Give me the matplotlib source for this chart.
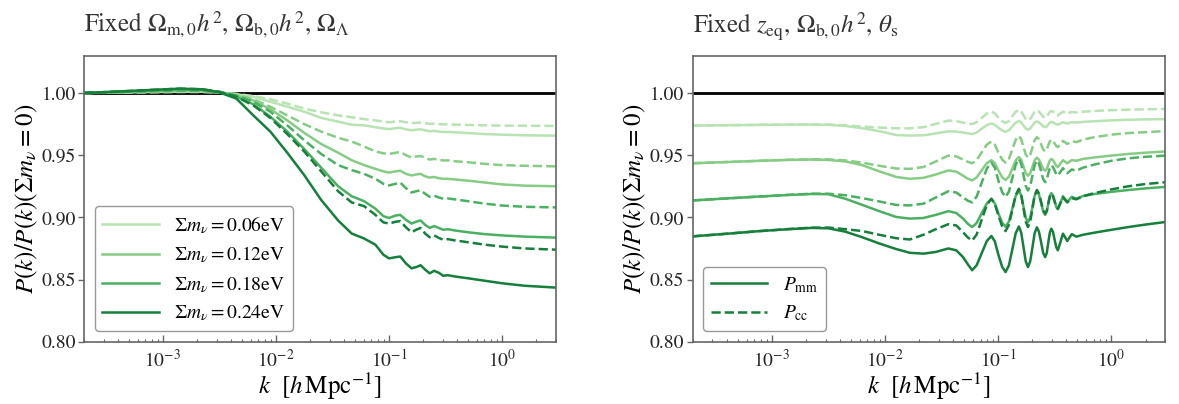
import matplotlib.pyplot as plt
import numpy as np
from matplotlib.ticker import FormatStrFormatter

# -----------------------------
# Fonts
# -----------------------------
plt.rcParams["font.family"] = "STIXGeneral"
plt.rcParams["mathtext.fontset"] = "stix"

# -----------------------------
# Data (log10 k grids, ratio curves)
# -----------------------------
LK_L = [-3.70, -3.40, -3.10, -2.85, -2.65, -2.50, -2.35, -2.20, -2.05, -1.90,
        -1.75, -1.60, -1.45, -1.33, -1.22, -1.12, -1.05, -1.00, -0.94, -0.90,
        -0.85, -0.80, -0.76, -0.72, -0.68, -0.64, -0.60, -0.56, -0.52, -0.48,
        -0.42, -0.30, -0.15, 0.00, 0.20, 0.48]

# left panel: solid = P_mm, dashed = P_cc
S06_L = [1.000, 1.0004, 1.0008, 1.001, 1.001, 1.0004, 0.999, 0.997, 0.993, 0.989,
         0.985, 0.980, 0.977, 0.9745, 0.974, 0.9725, 0.9715, 0.971, 0.9717, 0.972,
         0.9708, 0.970, 0.9705, 0.9708, 0.970, 0.9692, 0.9696, 0.969, 0.9687, 0.9687,
         0.9684, 0.9678, 0.967, 0.9665, 0.966, 0.9657]
D06_L = [1.000, 1.0003, 1.0006, 1.0008, 1.0008, 1.0004, 0.9993, 0.9975, 0.995, 0.9915,
         0.9875, 0.9845, 0.982, 0.9805, 0.979, 0.978, 0.977, 0.9765, 0.977, 0.9773,
         0.9765, 0.9757, 0.976, 0.9762, 0.9757, 0.9752, 0.9754, 0.975, 0.9748, 0.9748,
         0.9746, 0.9743, 0.974, 0.9738, 0.9737, 0.9735]
S12_L = [1.000, 1.0007, 1.0013, 1.0018, 1.0017, 1.0005, 0.998, 0.994, 0.987, 0.978,
         0.968, 0.959, 0.952, 0.946, 0.942, 0.939, 0.937, 0.936, 0.937, 0.9375,
         0.935, 0.9337, 0.9345, 0.935, 0.933, 0.932, 0.9325, 0.9315, 0.931, 0.931,
         0.9305, 0.9295, 0.928, 0.9265, 0.9255, 0.925]
D12_L = [1.000, 1.0006, 1.0011, 1.0015, 1.0015, 1.0005, 0.9985, 0.995, 0.989, 0.982,
         0.975, 0.969, 0.964, 0.961, 0.957, 0.953, 0.9515, 0.951, 0.952, 0.9525,
         0.950, 0.948, 0.949, 0.9493, 0.948, 0.9465, 0.947, 0.9462, 0.9458, 0.9458,
         0.9452, 0.9443, 0.943, 0.942, 0.9415, 0.941]
S18_L = [1.000, 1.001, 1.002, 1.003, 1.0025, 1.001, 0.997, 0.991, 0.981, 0.969,
         0.955, 0.940, 0.925, 0.917, 0.913, 0.907, 0.901, 0.8995, 0.9015, 0.902,
         0.898, 0.895, 0.8965, 0.8975, 0.894, 0.8915, 0.893, 0.8915, 0.890, 0.8905,
         0.8895, 0.888, 0.8865, 0.8855, 0.8845, 0.8837]
D18_L = [1.000, 1.0008, 1.0015, 1.002, 1.002, 1.0005, 0.998, 0.993, 0.985, 0.974,
         0.962, 0.951, 0.942, 0.938, 0.935, 0.931, 0.927, 0.9257, 0.927, 0.928,
         0.9235, 0.920, 0.921, 0.9217, 0.919, 0.9165, 0.9175, 0.916, 0.915, 0.9152,
         0.9145, 0.913, 0.911, 0.9095, 0.9085, 0.908]
S24_L = [1.000, 1.0012, 1.0025, 1.0035, 1.003, 1.0005, 0.9955, 0.982, 0.969, 0.952,
         0.934, 0.914, 0.8975, 0.887, 0.883, 0.878, 0.870, 0.867, 0.868, 0.8685,
         0.863, 0.859, 0.860, 0.8615, 0.858, 0.855, 0.857, 0.8555, 0.853, 0.8535,
         0.8525, 0.851, 0.849, 0.847, 0.845, 0.8435]
D24_L = [1.000, 1.0012, 1.0025, 1.0035, 1.003, 1.001, 0.997, 0.990, 0.980, 0.967,
         0.953, 0.937, 0.921, 0.912, 0.909, 0.902, 0.896, 0.895, 0.8965, 0.897,
         0.892, 0.888, 0.890, 0.8915, 0.887, 0.884, 0.8855, 0.8835, 0.882, 0.8825,
         0.8815, 0.880, 0.878, 0.8765, 0.875, 0.874]

LK_R = [-3.70, -3.40, -3.10, -2.85, -2.65, -2.50, -2.35, -2.20, -2.05, -1.90,
        -1.78, -1.66, -1.55, -1.44, -1.37, -1.31, -1.27, -1.23, -1.19, -1.145,
        -1.10, -1.06, -1.03, -1.00, -0.965, -0.935, -0.905, -0.875, -0.845, -0.817,
        -0.797, -0.777, -0.757, -0.737, -0.717, -0.697, -0.678, -0.658, -0.640, -0.621,
        -0.603, -0.585, -0.571, -0.558, -0.544, -0.531, -0.516, -0.502, -0.487, -0.473,
        -0.450, -0.428, -0.409, -0.390, -0.370, -0.350, -0.330, -0.310, -0.25, -0.15,
        0.00, 0.15, 0.30, 0.48]

S06_R = [0.9738, 0.9741, 0.9744, 0.9746, 0.9746, 0.9744, 0.9735, 0.9717, 0.9693, 0.9662,
         0.9658, 0.9660, 0.9675, 0.9692, 0.9690, 0.9682, 0.9676, 0.9670, 0.9682, 0.9713,
         0.9743, 0.9755, 0.9745, 0.9722, 0.9698, 0.9688, 0.9701, 0.9732, 0.9762, 0.9775,
         0.9765, 0.9740, 0.9715, 0.9705, 0.9715, 0.9739, 0.9762, 0.9772, 0.9765, 0.9749,
         0.9732, 0.9725, 0.9731, 0.9747, 0.9762, 0.9768, 0.9764, 0.9757, 0.9749, 0.9745,
         0.9755, 0.9765, 0.9760, 0.9755, 0.9760, 0.9765, 0.9764, 0.9762, 0.9768, 0.9773,
         0.9780, 0.9785, 0.9788, 0.9790]
D06_R = [0.9738, 0.9741, 0.9744, 0.9746, 0.9747, 0.9746, 0.9740, 0.9730, 0.9722, 0.9716,
         0.9716, 0.9725, 0.9752, 0.9778, 0.9774, 0.9762, 0.9755, 0.9750, 0.9765, 0.9800,
         0.9835, 0.9850, 0.9837, 0.9805, 0.9773, 0.9760, 0.9775, 0.9813, 0.9850, 0.9865,
         0.9853, 0.9823, 0.9792, 0.9780, 0.9792, 0.9820, 0.9848, 0.9860, 0.9851, 0.9830,
         0.9809, 0.9800, 0.9808, 0.9828, 0.9847, 0.9855, 0.9850, 0.9838, 0.9825, 0.9820,
         0.9835, 0.9850, 0.9843, 0.9835, 0.9842, 0.9848, 0.9846, 0.9843, 0.9850, 0.9856,
         0.9862, 0.9866, 0.9869, 0.9872]
S12_R = [0.9435, 0.9445, 0.9455, 0.9462, 0.9465, 0.9462, 0.9450, 0.9420, 0.9370, 0.9325,
         0.9310, 0.9318, 0.9345, 0.9377, 0.9368, 0.9335, 0.9312, 0.9297, 0.9321, 0.9379,
         0.9436, 0.9460, 0.9437, 0.9380, 0.9323, 0.9300, 0.9327, 0.9393, 0.9458, 0.9485,
         0.9463, 0.9410, 0.9357, 0.9335, 0.9356, 0.9408, 0.9459, 0.9480, 0.9465, 0.9428,
         0.9390, 0.9375, 0.9389, 0.9423, 0.9456, 0.9470, 0.9460, 0.9438, 0.9414, 0.9405,
         0.9433, 0.9460, 0.9448, 0.9435, 0.9448, 0.9460, 0.9458, 0.9455, 0.9470, 0.9482,
         0.9497, 0.9510, 0.9520, 0.9530]
D12_R = [0.9435, 0.9445, 0.9455, 0.9463, 0.9467, 0.9466, 0.9458, 0.9440, 0.9415, 0.9393,
         0.9390, 0.9405, 0.9450, 0.9497, 0.9490, 0.9465, 0.9447, 0.9435, 0.9461, 0.9523,
         0.9585, 0.9610, 0.9585, 0.9525, 0.9465, 0.9440, 0.9471, 0.9548, 0.9624, 0.9655,
         0.9629, 0.9568, 0.9506, 0.9480, 0.9504, 0.9563, 0.9621, 0.9645, 0.9628, 0.9588,
         0.9547, 0.9530, 0.9544, 0.9578, 0.9611, 0.9625, 0.9616, 0.9595, 0.9574, 0.9565,
         0.9590, 0.9615, 0.9603, 0.9590, 0.9601, 0.9612, 0.9609, 0.9605, 0.9625, 0.9645,
         0.9665, 0.9678, 0.9685, 0.9694]
S18_R = [0.9136, 0.9152, 0.9168, 0.9180, 0.9188, 0.9186, 0.9150, 0.9100, 0.9050, 0.9003,
         0.8990, 0.8995, 0.9020, 0.9050, 0.9035, 0.8990, 0.8950, 0.8922, 0.8955, 0.9034,
         0.9112, 0.9145, 0.9113, 0.9035, 0.8957, 0.8925, 0.8967, 0.9070, 0.9173, 0.9215,
         0.9178, 0.9088, 0.8997, 0.8960, 0.8997, 0.9085, 0.9174, 0.9210, 0.9182, 0.9115,
         0.9048, 0.9020, 0.9046, 0.9108, 0.9169, 0.9195, 0.9176, 0.9130, 0.9084, 0.9065,
         0.9118, 0.9170, 0.9148, 0.9125, 0.9145, 0.9165, 0.9158, 0.9150, 0.9172, 0.9188,
         0.9205, 0.9220, 0.9233, 0.9245]
D18_R = [0.9136, 0.9152, 0.9168, 0.9181, 0.9190, 0.9190, 0.9178, 0.9155, 0.9128, 0.9100,
         0.9096, 0.9110, 0.9160, 0.9210, 0.9200, 0.9160, 0.9135, 0.9120, 0.9167, 0.9280,
         0.9393, 0.9440, 0.9400, 0.9302, 0.9203, 0.9163, 0.9208, 0.9317, 0.9425, 0.9470,
         0.9433, 0.9343, 0.9253, 0.9216, 0.9251, 0.9337, 0.9422, 0.9457, 0.9432, 0.9370,
         0.9308, 0.9283, 0.9303, 0.9350, 0.9397, 0.9417, 0.9405, 0.9377, 0.9348, 0.9336,
         0.9366, 0.9395, 0.9375, 0.9355, 0.9370, 0.9385, 0.9380, 0.9375, 0.9400, 0.9425,
         0.9455, 0.9475, 0.9487, 0.9497]
S24_R = [0.8847, 0.8868, 0.8890, 0.8905, 0.8915, 0.8912, 0.8885, 0.8840, 0.8790, 0.8745,
         0.8715, 0.8708, 0.8722, 0.8750, 0.8735, 0.8680, 0.8625, 0.8575, 0.8615, 0.8713,
         0.8810, 0.8850, 0.8808, 0.8705, 0.8602, 0.8560, 0.8614, 0.8744, 0.8873, 0.8927,
         0.8879, 0.8764, 0.8648, 0.8600, 0.8647, 0.8760, 0.8873, 0.8920, 0.8885, 0.8800,
         0.8715, 0.8680, 0.8713, 0.8795, 0.8876, 0.8909, 0.8884, 0.8822, 0.8760, 0.8735,
         0.8802, 0.8869, 0.8840, 0.8810, 0.8838, 0.8865, 0.8855, 0.8845, 0.8860, 0.8877,
         0.8900, 0.8922, 0.8942, 0.8963]
D24_R = [0.8847, 0.8868, 0.8890, 0.8906, 0.8917, 0.8918, 0.8905, 0.8890, 0.8860, 0.8832,
         0.8822, 0.8860, 0.8905, 0.8945, 0.8935, 0.8880, 0.8840, 0.8813, 0.8862, 0.8982,
         0.9101, 0.9150, 0.9112, 0.9020, 0.8928, 0.8890, 0.8940, 0.9060, 0.9180, 0.9230,
         0.9185, 0.9076, 0.8967, 0.8922, 0.8966, 0.9071, 0.9176, 0.9220, 0.9192, 0.9125,
         0.9058, 0.9030, 0.9053, 0.9110, 0.9167, 0.9190, 0.9172, 0.9130, 0.9088, 0.9070,
         0.9115, 0.9160, 0.9140, 0.9120, 0.9138, 0.9155, 0.9150, 0.9145, 0.9170, 0.9195,
         0.9225, 0.9250, 0.9268, 0.9283]

MASSES = ["0.06", "0.12", "0.18", "0.24"]
SOLID_L = [S06_L, S12_L, S18_L, S24_L]
DASH_L = [D06_L, D12_L, D18_L, D24_L]
SOLID_R = [S06_R, S12_R, S18_R, S24_R]
DASH_R = [D06_R, D12_R, D18_R, D24_R]

COLORS = plt.cm.Greens([0.3, 0.45, 0.6, 0.8])
LW = 1.8

kL = 10 ** np.array(LK_L)
kR = 10 ** np.array(LK_R)

# -----------------------------
# Figure
# -----------------------------
fig = plt.figure(figsize=(11.79, 4.04), dpi=100)
ax1 = fig.add_axes([0.0712, 0.1542, 0.4003, 0.7079])
ax2 = fig.add_axes([0.5874, 0.1542, 0.4011, 0.7079])

for ax in (ax1, ax2):
    ax.axhline(1.0, color="k", lw=2.0, zorder=1)

for i, m in enumerate(MASSES):
    ax1.plot(kL, DASH_L[i], "--", color=COLORS[i], lw=LW, zorder=2)
    ax1.plot(kL, SOLID_L[i], "-", color=COLORS[i], lw=LW, zorder=2,
             label=r"$\Sigma m_\nu = %s{\rm eV}$" % m)

for i in range(len(MASSES)):
    ld, = ax2.plot(kR, DASH_R[i], "--", color=COLORS[i], lw=LW, zorder=2)
    ls, = ax2.plot(kR, SOLID_R[i], "-", color=COLORS[i], lw=LW, zorder=2)

# -----------------------------
# Axes styling
# -----------------------------
for ax in (ax1, ax2):
    ax.set_xscale("log")
    ax.set_xlim(2e-4, 3)
    ax.set_ylim(0.80, 1.03)
    ax.set_yticks([0.80, 0.85, 0.90, 0.95, 1.00])
    ax.yaxis.set_major_formatter(FormatStrFormatter("%.2f"))
    ax.tick_params(axis="x", which="major", direction="in", length=5, width=1,
                   color="0.4", labelcolor="0.15", labelsize=14, pad=5)
    ax.tick_params(axis="x", which="minor", direction="in", length=2.5, width=0.8,
                   color="0.4")
    ax.tick_params(axis="y", which="major", direction="out", length=4, width=1,
                   color="0.4", labelcolor="0.15", labelsize=14, pad=2)
    for sp in ax.spines.values():
        sp.set_color("0.4")
        sp.set_linewidth(1.2)
    ax.set_xlabel(r"$k\ \ [h\,{\rm Mpc}^{-1}]$", fontsize=18, labelpad=0)
    ax.set_ylabel(r"$P(k)/P(k)(\Sigma m_\nu = 0)$", fontsize=18, labelpad=1)

ax1.set_title(r"Fixed $\Omega_{\rm m,0}h^2$, $\Omega_{\rm b,0}h^2$, $\Omega_\Lambda$",
              loc="left", fontsize=18, pad=17, color="0.2")
ax2.set_title(r"Fixed $z_{\rm eq}$, $\Omega_{\rm b,0}h^2$, $\theta_{\rm s}$",
              loc="left", fontsize=18, pad=17, color="0.2")

leg_kw = dict(loc="lower left", fontsize=14, handlelength=2.9, labelspacing=0.45,
              borderaxespad=0.55, fancybox=True, edgecolor="0.6", framealpha=1)
ax1.legend(**leg_kw)
ax2.legend([ls, ld], [r"$P_{\rm mm}$", r"$P_{\rm cc}$"], **leg_kw)

fig.savefig("out.png", dpi=100)
